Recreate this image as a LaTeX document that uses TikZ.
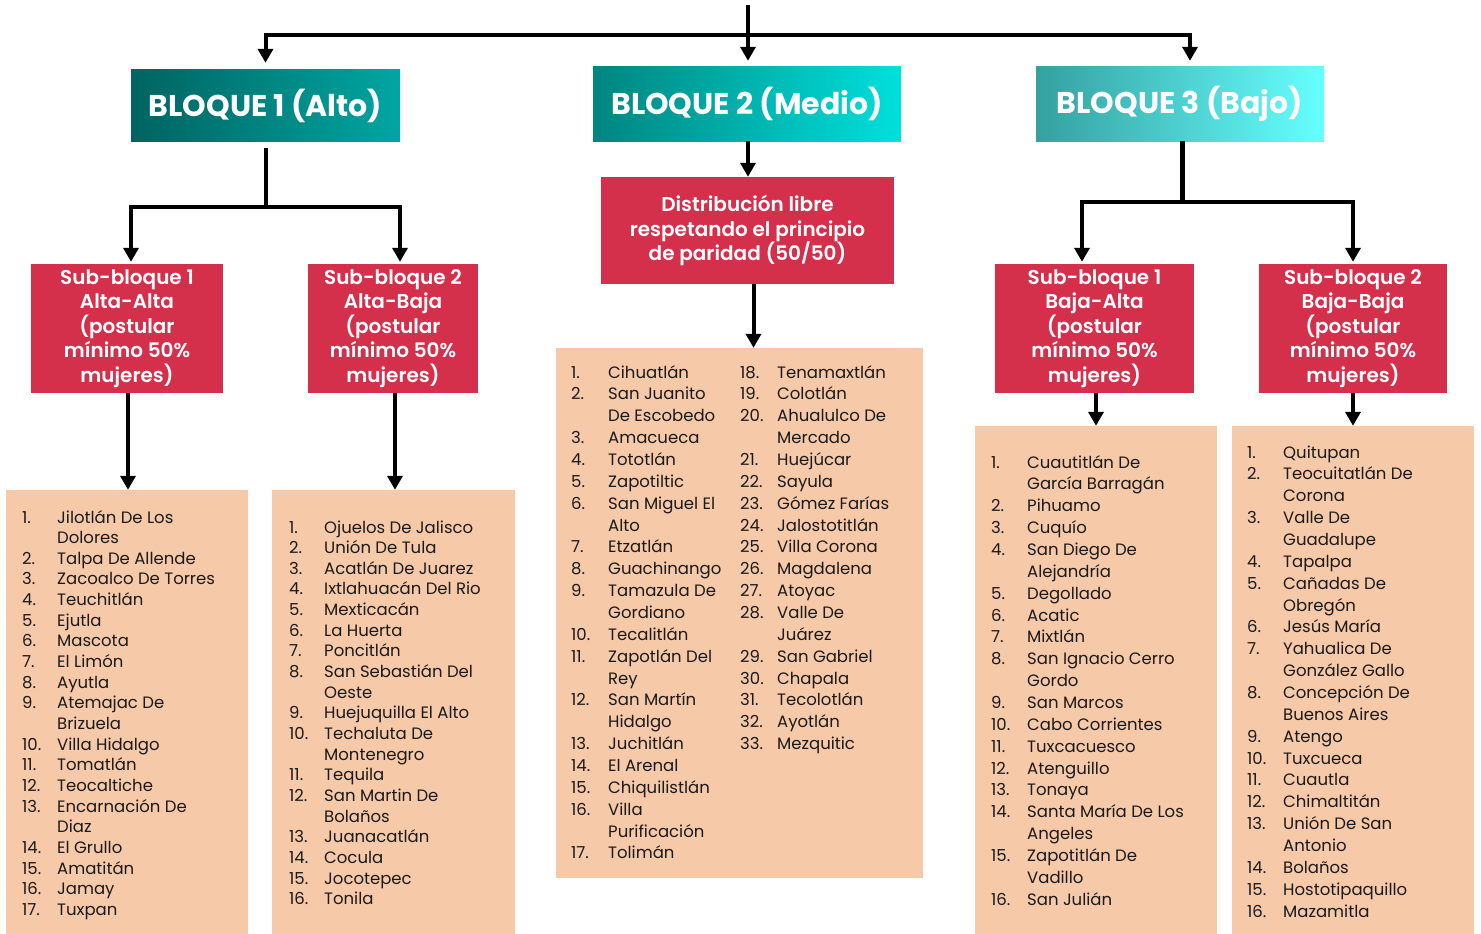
\documentclass[tikz,border=0pt]{standalone}
\usepackage{fontspec}
\setmainfont{Poppins}
\newfontfamily\semib{Poppins SemiBold}
\usetikzlibrary{arrows.meta}
\definecolor{redbox}{HTML}{D42F4B}
\definecolor{peach}{HTML}{F6C9A9}
\definecolor{ink}{HTML}{1A1A1A}
\definecolor{tealA1}{HTML}{006360}
\definecolor{tealA2}{HTML}{00A6A2}
\definecolor{tealB1}{HTML}{00857F}
\definecolor{tealB2}{HTML}{00E0DC}
\definecolor{tealC1}{HTML}{35A0A0}
\definecolor{tealC2}{HTML}{66FFFF}
\begin{document}
\begin{tikzpicture}[x=1pt,y=-1pt,
  conn/.style={line width=4pt},
  arr/.style={line width=4pt,-{Triangle[width=15pt,length=14pt]}},
  hdr/.style={inner sep=0pt,text=white,font=\fontsize{30}{34}\selectfont\bfseries},
  subbox/.style={fill=redbox,text=white,align=center,inner sep=0pt,font=\fontsize{20}{24.5}\selectfont\semib},
  listbox/.style={fill=peach,inner sep=0pt},
  lst/.style={anchor=base west,inner sep=0pt,text=ink,font=\fontsize{16.5}{21.86}\selectfont},
  lstb/.style={anchor=base west,inner sep=0pt,text=ink,font=\fontsize{16.5}{20.65}\selectfont}]
\useasboundingbox (0,0) rectangle (1481,934);
% header blocks
\node[hdr,minimum width=269pt,minimum height=71pt,left color=tealA1,right color=tealA2] (b1) at (265.5,105.5) {BLOQUE 1 (Alto)};
\node[hdr,minimum width=308pt,minimum height=74pt,left color=tealB1,right color=tealB2] (b2) at (747,104) {BLOQUE 2 (Medio)};
\node[hdr,minimum width=288pt,minimum height=74pt,left color=tealC1,right color=tealC2] (b3) at (1180,104) {BLOQUE 3 (Bajo)};
% red boxes
\node[subbox,minimum width=293pt,minimum height=107pt] (dist) at (747.5,230.5) {Distribución libre\\respetando el principio\\de paridad (50/50)};
\node[subbox,minimum width=192pt,minimum height=129pt] (s1) at (127,328.5) {Sub-bloque 1\\Alta-Alta\\(postular\\mínimo 50\%\\mujeres)};
\node[subbox,minimum width=170pt,minimum height=129pt] (s2) at (393,328.5) {Sub-bloque 2\\Alta-Baja\\(postular\\mínimo 50\%\\mujeres)};
\node[subbox,minimum width=199pt,minimum height=129pt] (s3) at (1094.5,328.5) {Sub-bloque 1\\Baja-Alta\\(postular\\mínimo 50\%\\mujeres)};
\node[subbox,minimum width=188pt,minimum height=129pt] (s4) at (1353,328.5) {Sub-bloque 2\\Baja-Baja\\(postular\\mínimo 50\%\\mujeres)};
% list boxes
\node[listbox,minimum width=242pt,minimum height=444pt] (L1) at (127,712) {};
\node[listbox,minimum width=243pt,minimum height=444pt] (L2) at (393.5,712) {};
\node[listbox,minimum width=367pt,minimum height=530pt] (L3) at (739.5,613) {};
\node[listbox,minimum width=242pt,minimum height=508pt] (L4) at (1096,680) {};
\node[listbox,minimum width=242pt,minimum height=508pt] (L5) at (1353,680) {};
% list texts
\node[lstb] (t1) at (22,523) {\begin{tabular}[t]{@{}p{35pt}@{}l@{}}
1. & Jilotlán De Los\\ & Dolores\\ 2. & Talpa De Allende\\ 3. & Zacoalco De Torres\\ 4. & Teuchitlán\\ 5. & Ejutla\\ 6. & Mascota\\ 7. & El Limón\\ 8. & Ayutla\\ 9. & Atemajac De\\ & Brizuela\\ 10. & Villa Hidalgo\\ 11. & Tomatlán\\ 12. & Teocaltiche\\ 13. & Encarnación De\\ & Diaz\\ 14. & El Grullo\\ 15. & Amatitán\\ 16. & Jamay\\ 17. & Tuxpan
\end{tabular}};
\node[lstb] (t2) at (289,533) {\begin{tabular}[t]{@{}p{35pt}@{}l@{}}
1. & Ojuelos De Jalisco\\ 2. & Unión De Tula\\ 3. & Acatlán De Juarez\\ 4. & Ixtlahuacán Del Rio\\ 5. & Mexticacán\\ 6. & La Huerta\\ 7. & Poncitlán\\ 8. & San Sebastián Del\\ & Oeste\\ 9. & Huejuquilla El Alto\\ 10. & Techaluta De\\ & Montenegro\\ 11. & Tequila\\ 12. & San Martin De\\ & Bolaños\\ 13. & Juanacatlán\\ 14. & Cocula\\ 15. & Jocotepec\\ 16. & Tonila
\end{tabular}};
\node[lst] (t3a) at (571,378) {\begin{tabular}[t]{@{}p{37pt}@{}l@{}}
1. & Cihuatlán\\ 2. & San Juanito\\ & De Escobedo\\ 3. & Amacueca\\ 4. & Tototlán\\ 5. & Zapotiltic\\ 6. & San Miguel El\\ & Alto\\ 7. & Etzatlán\\ 8. & Guachinango\\ 9. & Tamazula De\\ & Gordiano\\ 10. & Tecalitlán\\ 11. & Zapotlán Del\\ & Rey\\ 12. & San Martín\\ & Hidalgo\\ 13. & Juchitlán\\ 14. & El Arenal\\ 15. & Chiquilistlán\\ 16. & Villa\\ & Purificación\\ 17. & Tolimán
\end{tabular}};
\node[lst] (t3b) at (740,378) {\begin{tabular}[t]{@{}p{37pt}@{}l@{}}
18. & Tenamaxtlán\\ 19. & Colotlán\\ 20. & Ahualulco De\\ & Mercado\\ 21. & Huejúcar\\ 22. & Sayula\\ 23. & Gómez Farías\\ 24. & Jalostotitlán\\ 25. & Villa Corona\\ 26. & Magdalena\\ 27. & Atoyac\\ 28. & Valle De\\ & Juárez\\ 29. & San Gabriel\\ 30. & Chapala\\ 31. & Tecolotlán\\ 32. & Ayotlán\\ 33. & Mezquitic
\end{tabular}};
\node[lst] (t4) at (991,468) {\begin{tabular}[t]{@{}p{36pt}@{}l@{}}
1. & Cuautitlán De\\ & García Barragán\\ 2. & Pihuamo\\ 3. & Cuquío\\ 4. & San Diego De\\ & Alejandría\\ 5. & Degollado\\ 6. & Acatic\\ 7. & Mixtlán\\ 8. & San Ignacio Cerro\\ & Gordo\\ 9. & San Marcos\\ 10. & Cabo Corrientes\\ 11. & Tuxcacuesco\\ 12. & Atenguillo\\ 13. & Tonaya\\ 14. & Santa María De Los\\ & Angeles\\ 15. & Zapotitlán De\\ & Vadillo\\ 16. & San Julián
\end{tabular}};
\node[lst] (t5) at (1247,458) {\begin{tabular}[t]{@{}p{36pt}@{}l@{}}
1. & Quitupan\\ 2. & Teocuitatlán De\\ & Corona\\ 3. & Valle De\\ & Guadalupe\\ 4. & Tapalpa\\ 5. & Cañadas De\\ & Obregón\\ 6. & Jesús María\\ 7. & Yahualica De\\ & González Gallo\\ 8. & Concepción De\\ & Buenos Aires\\ 9. & Atengo\\ 10. & Tuxcueca\\ 11. & Cuautla\\ 12. & Chimaltitán\\ 13. & Unión De San\\ & Antonio\\ 14. & Bolaños\\ 15. & Hostotipaquillo\\ 16. & Mazamitla
\end{tabular}};
% connectors
\coordinate (top) at (748,5);
\coordinate (j1) at (748,35);
\coordinate (j2) at (266,207);
\coordinate (j3) at (1182,202);
\draw[arr,shorten >=6pt] (top) -- (b2.north -| top);
\draw[arr,shorten >=7pt] (j1) -| (b1.north);
\draw[arr,shorten >=6pt] (j1) -| ([xshift=10pt]b3.north);
\draw[conn] (j2 |- b1.south) ++(0,7) -- (j2);
\draw[arr,shorten >=2pt] (j2) -| ([xshift=4pt]s1.north);
\draw[arr,shorten >=2pt] (j2) -| ([xshift=7pt]s2.north);
\draw[arr] ([xshift=1pt]s1.south) -- ([xshift=1pt]s1.south |- L1.north);
\draw[arr] ([xshift=2pt]s2.south) -- ([xshift=2pt]s2.south |- L2.north);
\draw[arr] (b2.south -| top) -- (dist.north -| top);
\draw[arr] ([xshift=6pt]dist.south) -- ([xshift=6pt]dist.south |- L3.north);
\draw[line width=5pt] (j3 |- b3.south) -- (j3);
\draw[arr,shorten >=2pt] (j3) -| ([xshift=-12.5pt]s3.north);
\draw[arr,shorten >=2pt] (j3) -| (s4.north);
\draw[arr] ([xshift=1.5pt]s3.south) -- ([xshift=1.5pt]s3.south |- L4.north);
\draw[arr] (s4.south) -- (s4.south |- L5.north);
\end{tikzpicture}
\end{document}
